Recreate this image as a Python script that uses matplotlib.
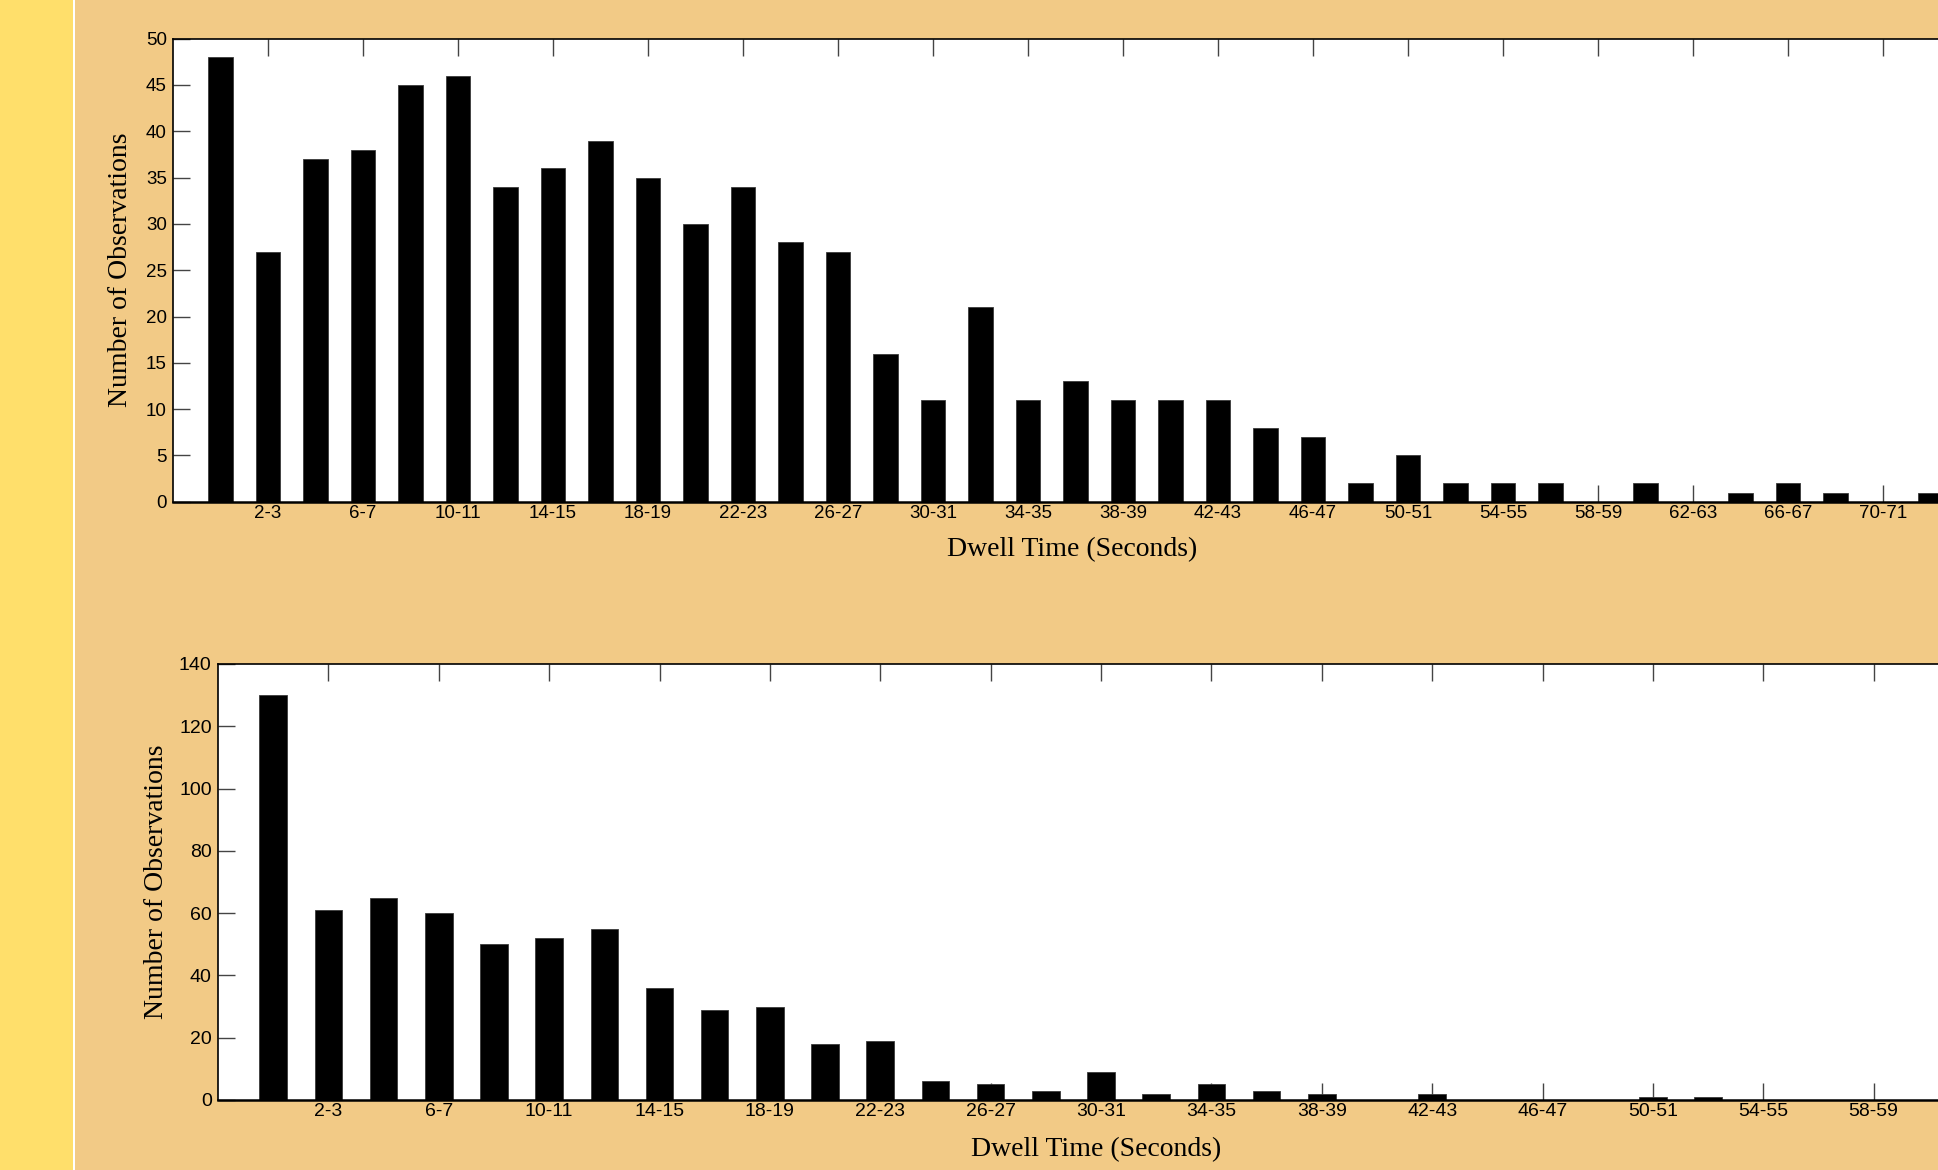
import matplotlib
matplotlib.use('Agg')
import matplotlib.pyplot as plt
from matplotlib.patches import Rectangle

# dwell time bins (seconds) and counts
top_bins = ['0-1', '2-3', '4-5', '6-7', '8-9', '10-11', '12-13', '14-15', '16-17', '18-19',
            '20-21', '22-23', '24-25', '26-27', '28-29', '30-31', '32-33', '34-35', '36-37',
            '38-39', '40-41', '42-43', '44-45', '46-47', '48-49', '50-51', '52-53', '54-55',
            '56-57', '58-59', '60-61', '62-63', '64-65', '66-67', '68-69', '70-71', '72-73']
top_counts = [48, 27, 37, 38, 45, 46, 34, 36, 39, 35, 30, 34, 28, 27, 16, 11, 21, 11, 13,
              11, 11, 11, 8, 7, 2, 5, 2, 2, 2, 0, 2, 0, 1, 2, 1, 0, 1]

bottom_bins = ['0-1', '2-3', '4-5', '6-7', '8-9', '10-11', '12-13', '14-15', '16-17', '18-19',
               '20-21', '22-23', '24-25', '26-27', '28-29', '30-31', '32-33', '34-35', '36-37',
               '38-39', '40-41', '42-43', '44-45', '46-47', '48-49', '50-51', '52-53', '54-55',
               '56-57', '58-59', '60-61']
bottom_counts = [130, 61, 65, 60, 50, 52, 55, 36, 29, 30, 18, 19, 6, 5, 3, 9, 2, 5, 3,
                 2, 0, 2, 0, 0, 0, 1, 1, 0, 0, 0, 0]

x_title = 'Dwell Time (Seconds)'
y_title = 'Number of Observations'

W, H = 1938, 1170
fig = plt.figure(figsize=(W / 100, H / 100), dpi=100, facecolor='#f2ca86')
# yellow strip on the left with a thin white edge
fig.add_artist(Rectangle((0, 0), 73 / W, 1, transform=fig.transFigure,
                         facecolor='#ffdf6b', edgecolor='none', zorder=0))
fig.add_artist(Rectangle((73 / W, 0), 2 / W, 1, transform=fig.transFigure,
                         facecolor='white', edgecolor='none', zorder=0))


def draw_panel(rect, bins, counts, ymax, ystep, bar_w, ylab_x, xlab_y, xlab_x, tick_size):
    ax = fig.add_axes(rect)
    ax.set_facecolor('white')
    xs = list(range(len(counts)))
    ax.bar(xs, counts, width=bar_w, color='black', edgecolor='#3a3a3a', linewidth=0.6)
    ax.set_xlim(-1, len(counts))
    ax.set_ylim(0, ymax)
    ax.set_yticks(range(0, ymax + 1, ystep))
    ax.set_xticks(xs[1::2])
    ax.set_xticklabels(bins[1::2])
    ax.set_axisbelow(True)  # bars hide the inward ticks
    ax.tick_params(axis='x', direction='in', top=True, bottom=True, length=12,
                   width=1.0, color='#444444', pad=2.5, labelsize=tick_size)
    ax.tick_params(axis='y', direction='in', left=True, right=False, length=12,
                   width=1.0, color='#444444', pad=4.5, labelsize=tick_size)
    for lab in ax.get_xticklabels() + ax.get_yticklabels():
        lab.set_fontfamily('Liberation Sans')
    for side in ['left', 'top', 'bottom']:
        ax.spines[side].set_linewidth(1.2)
    ax.spines['bottom'].set_linewidth(1.8)
    ax.spines['right'].set_visible(False)

    ax.set_ylabel(y_title, fontsize=20, family='Liberation Serif', va='center')
    ax.yaxis.set_label_coords(ylab_x, 0.5)
    ax.set_xlabel(x_title, fontsize=20, family='Liberation Serif', va='center')
    ax.xaxis.set_label_coords(xlab_x, xlab_y)
    return ax


draw_panel([173 / W, (H - 501.8) / H, 1805 / W, 463.2 / H],
           top_bins, top_counts, 50, 5, 0.52, -0.0291, -0.104, 0.498, 13.5)
draw_panel([218 / W, (H - 1100) / H, 1766 / W, 436 / H],
           bottom_bins, bottom_counts, 140, 20, 0.5, -0.0351, -0.113, 0.497, 14)

fig.savefig('out.png', dpi=100, facecolor=fig.get_facecolor())
